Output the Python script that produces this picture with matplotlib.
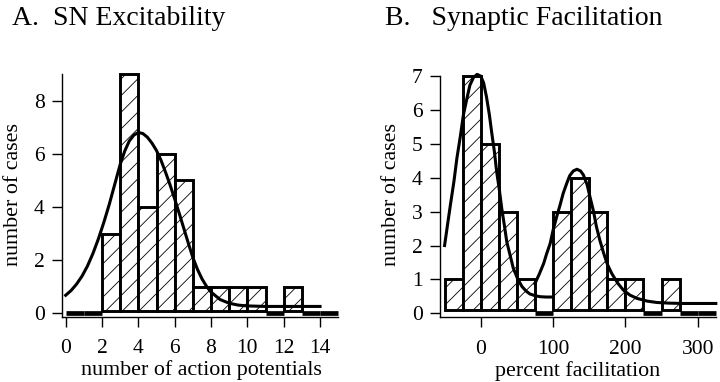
import numpy as np
import matplotlib.pyplot as plt

plt.rcParams['font.family'] = 'Liberation Serif'
plt.rcParams['hatch.linewidth'] = 0.6

# A. SN excitability histogram (bin edges, counts) and fitted curve
edges_a = [0, 1, 2, 3, 4, 5, 6, 7, 8, 9, 10, 11, 12, 13, 14, 15]
counts_a = [0, 0, 3, 9, 4, 6, 5, 1, 1, 1, 1, 0, 1, 0, 0]
fit_a_x = [0, 0.3, 0.6, 0.9, 1.2, 1.5, 1.8, 2.1, 2.4, 2.7, 3, 3.25, 3.5, 3.75, 4, 4.25, 4.5,
           4.75, 5, 5.25, 5.5, 5.75, 6, 6.25, 6.5, 6.75, 7, 7.25, 7.5, 7.75, 8, 8.5, 9, 9.5,
           10, 11, 12, 13, 14]
fit_a_y = [0.68, 0.86, 1.1, 1.4, 1.78, 2.25, 2.8, 3.42, 4.1, 4.85, 5.6, 6.1, 6.48, 6.7, 6.8,
           6.76, 6.62, 6.4, 6.12, 5.75, 5.3, 4.82, 4.3, 3.76, 3.2, 2.64, 2.1, 1.66, 1.3, 1.02,
           0.8, 0.52, 0.38, 0.31, 0.28, 0.26, 0.26, 0.26, 0.26]

# B. synaptic facilitation histogram and the two fitted humps
edges_b = [-50, -25, 0, 25, 50, 75, 100, 125, 150, 175, 200, 225, 250, 275, 300, 325]
counts_b = [1, 7, 5, 3, 1, 0, 3, 4, 3, 1, 1, 0, 1, 0, 0]
fit_b1_x = [-50, -46, -42, -37, -33, -28, -24, -19, -15, -10, -5, 0, 4, 8, 12, 15, 19, 22,
            26, 29, 33, 36, 41, 45, 51, 57, 63, 68, 75, 82, 90, 100]
fit_b1_y = [2.0, 2.6, 3.19, 3.9, 4.57, 5.25, 5.85, 6.35, 6.73, 6.96, 7.05, 7.0, 6.8, 6.38,
            5.85, 5.36, 4.75, 4.18, 3.6, 3.1, 2.55, 2.11, 1.68, 1.33, 1.02, 0.79, 0.65,
            0.57, 0.52, 0.49, 0.48, 0.48]
fit_b2_x = [75, 81, 87, 91, 96, 100, 105, 110, 114, 119, 123, 128, 133, 138, 142, 147, 151,
            156, 160, 165, 170, 175, 181, 189, 197, 206, 216, 230, 243, 260, 280, 300, 325]
fit_b2_y = [0.88, 1.16, 1.47, 1.75, 2.06, 2.45, 2.85, 3.22, 3.54, 3.84, 4.06, 4.2, 4.25,
            4.2, 4.08, 3.8, 3.44, 3.0, 2.55, 2.13, 1.77, 1.45, 1.18, 0.9, 0.69, 0.54, 0.44,
            0.36, 0.32, 0.3, 0.29, 0.29, 0.29]


def histo(ax, edges, counts):
    for i in range(len(counts)):
        x0 = edges[i]
        x1 = edges[i + 1]
        if counts[i] > 0:
            ax.bar(x0, counts[i] - 0.1, width=x1 - x0, bottom=0.1, align='edge',
                   facecolor='white', edgecolor='black', linewidth=2.1, hatch='//', zorder=2)
        else:
            ax.hlines(0, x0, x1, color='black', linewidth=3.4, zorder=3)


def estilo(ax, xspine, xend, ytop):
    ax.spines['top'].set_visible(False)
    ax.spines['right'].set_visible(False)
    ax.spines['left'].set_position(('data', xspine))
    ax.spines['left'].set_bounds(-0.12, ytop)
    ax.spines['bottom'].set_position(('data', -0.12))
    ax.spines['bottom'].set_bounds(xspine, xend)
    for s in ['left', 'bottom']:
        ax.spines[s].set_linewidth(1)
    ax.tick_params(direction='out', length=7.5, width=1, labelsize=15.5)
    ax.tick_params(axis='x', pad=9)
    ax.tick_params(axis='y', pad=5)


fig = plt.figure(figsize=(7.2, 3.82), dpi=100)

axA = fig.add_axes([0.0833, 0.1623, 0.3917, 0.6545])
histo(axA, edges_a, counts_a)
axA.plot(fit_a_x, fit_a_y, color='black', linewidth=2.2, zorder=5)
axA.set_xlim(-0.314, 15.21)
axA.set_ylim(-0.25, 9.15)
axA.set_xticks([0, 2, 4, 6, 8, 10, 12, 14])
axA.set_yticks([0, 2, 4, 6, 8])
estilo(axA, -0.2, 15, 9)
axA.set_xlabel('number of action potentials', fontsize=15.8, labelpad=1)
axA.set_ylabel('number of cases', fontsize=15.8, labelpad=8)

axB = fig.add_axes([0.6042, 0.1623, 0.3958, 0.6545])
histo(axB, edges_b, counts_b)
axB.plot(fit_b1_x, fit_b1_y, color='black', linewidth=2.2, zorder=5)
axB.plot(fit_b2_x, fit_b2_y, color='black', linewidth=2.2, zorder=5)
axB.set_xlim(-63.2, 330.8)
axB.set_ylim(-0.198, 7.18)
axB.set_xticks([0, 100, 200, 300])
axB.set_yticks([0, 1, 2, 3, 4, 5, 6, 7])
estilo(axB, -56, 325, 7)
axB.set_xlabel('percent facilitation', fontsize=15.8, labelpad=1)
axB.set_ylabel('number of cases', fontsize=15.8, labelpad=8)

fig.text(0.0167, 0.935, 'A.  SN Excitability', fontsize=20, va='baseline')
fig.text(0.535, 0.935, 'B.   Synaptic Facilitation', fontsize=20, va='baseline')

plt.savefig('out.png', dpi=100)
